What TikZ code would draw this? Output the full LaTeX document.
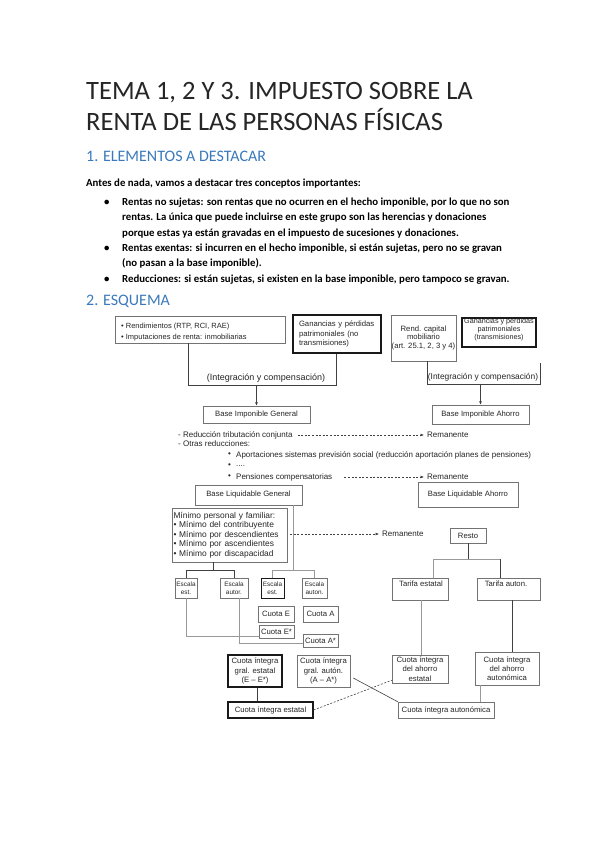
\documentclass[tikz,border=0pt]{standalone}
\usepackage{fontspec}
\setmainfont{Carlito}
\newfontfamily\arialf{Liberation Sans}
\usetikzlibrary{arrows.meta,shadows,calc}
\definecolor{headblue}{RGB}{58,122,188}
\newcommand\mybox[7]{\node[#1, minimum width={(#5-#3)*1pt}, minimum height={(#6-#4)*1pt}] (#2) at ({(#3+#5)/2},{(#4+#6)/2}) {#7};}
\newcommand\fsz[2]{\fontsize{#1}{#2}\selectfont}
\begin{document}
\begin{tikzpicture}[x=1pt,y=-1pt,
  txt/.style={inner sep=0pt, anchor=base west},
  body/.style={txt, font=\bfseries\fsz{10.8}{12}},
  head/.style={txt, text=headblue, font=\fsz{16}{19}},
  dtxt/.style={inner sep=0pt, anchor=west, font=\arialf\fsz{8}{9.5}, text=black!85},
  dbase/.style={inner sep=0.5pt, font=\arialf\fsz{7.7}{9.3}, text=black!85, align=center, fill=white},
  sbox/.style={dbase, draw=black!55, line width=0.5pt, drop shadow={shadow xshift=0.9pt, shadow yshift=-0.9pt, fill=black!70, opacity=0.6}},
  hbox/.style={dbase, draw=black!90, line width=1.1pt},
  ln/.style={draw=black!75, line width=0.6pt},
  gln/.style={draw=black!40, line width=0.6pt},
  arr/.style={ln, -{Latex[length=3.5pt,width=3pt]}},
  darr/.style={draw=black!75, line width=0.6pt, dash pattern=on 2pt off 1.6pt, -{Latex[length=3.5pt,width=3pt]}},
  dln/.style={draw=black!75, line width=0.6pt, dash pattern=on 2pt off 1.6pt},
  esc/.style={font=\arialf\fsz{6.4}{8.3}, inner sep=0pt}
]
\fill[white] (0,0) rectangle (599,848);
\useasboundingbox (0,0) rectangle (599,848);

% ---------- text part ----------
\node[txt, font=\fsz{26.5}{31}, text=black!85] (title1) at (86,100) {TEMA 1, 2 Y 3. IMPUESTO SOBRE LA};
\node[txt, font=\fsz{26.5}{31}, text=black!85] (title2) at (86,131) {RENTA DE LAS PERSONAS FÍSICAS};
\node[head] (h1) at (86,161) {1. ELEMENTOS A DESTACAR};
\node[body] (intro) at (86,186) {Antes de nada, vamos a destacar tres conceptos importantes:};

\node[body] (bu1) at (104,205) {\textbullet};
\node[body] (l1) at (122,205) {Rentas no sujetas: son rentas que no ocurren en el hecho imponible, por lo que no son};
\node[body] (l2) at (122,220) {rentas. La única que puede incluirse en este grupo son las herencias y donaciones};
\node[body] (l3) at (122,236) {porque estas ya están gravadas en el impuesto de sucesiones y donaciones.};
\node[body] (bu4) at (104,251) {\textbullet};
\node[body] (l4) at (122,251) {Rentas exentas: si incurren en el hecho imponible, si están sujetas, pero no se gravan};
\node[body] (l5) at (122,266) {(no pasan a la base imponible).};
\node[body] (bu6) at (104,282) {\textbullet};
\node[body] (l6) at (122,282) {Reducciones: si están sujetas, si existen en la base imponible, pero tampoco se gravan.};
\node[head] (h2) at (86,305) {2. ESQUEMA};

% ---------- diagram: top ----------
\mybox{sbox}{b1}{115}{316}{285}{343}{}
\node[dtxt, font=\arialf\fsz{7.5}{9}] (b1t1) at (121,327) {\textbullet\ Rendimientos (RTP, RCI, RAE)};
\node[dtxt, font=\arialf\fsz{7.5}{9}] (b1t2) at (121,338) {\textbullet\ Imputaciones de renta: inmobiliarias};
\mybox{hbox, align=left, text width=76pt, font=\arialf\fsz{7.7}{9.8}}{b2}{293}{315}{381}{353}{Ganancias y pérdidas\\patrimoniales (no\\transmisiones)}
\mybox{sbox, font=\arialf\fsz{7.7}{8.6}}{b3}{391}{315}{456}{361}{Rend. capital\\mobiliario\\(art. 25.1, 2, 3 y 4)}
\mybox{hbox, line width=1.5pt}{b4}{462}{318}{536}{347}{}
\node[dbase, fill=none, inner sep=0pt, font=\arialf\fsz{7.2}{8.2}] (b4t) at (499,329.5) {Ganancias y pérdidas\\patrimoniales\\(transmisiones)};

\coordinate (lbA) at (188,385);
\coordinate (lbB) at (336,385);
\draw[ln] (b1.south -| lbA) -- (lbA) -- (lbB) -- (b2.south -| lbB);
\node[dtxt, anchor=center, font=\arialf\fsz{9}{10}] (intL) at (266,378) {(Integración y compensación)};
\mybox{sbox}{BIG}{203}{406}{310}{423}{Base Imponible General}
\draw[arr] (BIG.north |- lbA) -- (BIG.north);

\coordinate (rbA) at (427,384);
\coordinate (rbB) at (540,384);
\coordinate (rbC) at (540,363);
\draw[ln] (b3.south -| rbA) -- (rbA) -- (rbB) -- (rbC);
\node[dtxt, anchor=center, font=\arialf\fsz{8.4}{10}] (intR) at (483,377) {(Integración y compensación)};
\mybox{sbox}{BIA}{432}{405}{529}{424}{Base Imponible Ahorro}
\draw[arr] (BIA.north |- rbA) -- (BIA.north);

% ---------- reductions ----------
\node[dtxt] (r1) at (178,435) {- Reducción tributación conjunta};
\node[dtxt] (r2) at (178,444) {- Otras reducciones:};
\node[dtxt] (rb3) at (228,455) {\textbullet};
\node[dtxt] (r3) at (236,455) {Aportaciones sistemas previsión social (reducción aportación planes de pensiones)};
\node[dtxt] (rb4) at (228,466) {\textbullet};
\node[dtxt] (r4) at (236,466) {....};
\node[dtxt] (rb5) at (228,477) {\textbullet};
\node[dtxt] (r5) at (236,477) {Pensiones compensatorias};
\node[dtxt] (rem1) at (427,435) {Remanente};
\node[dtxt] (rem2) at (427,477) {Remanente};
\draw[darr] ($(r1.east)+(5,0)$) -- ($(rem1.west)+(-3,0)$);
\draw[darr] ($(r5.east)+(12,0)$) -- ($(rem2.west)+(-3,0)$);

\mybox{sbox}{BLG}{195}{485}{302}{505}{Base Liquidable General}
\mybox{sbox, drop shadow={shadow xshift=1.4pt, shadow yshift=-1.4pt, fill=black!85}}{BLA}{418}{482}{518}{507}{Base Liquidable Ahorro}

% ---------- minimos ----------
\mybox{sbox, align=left, text width=112pt, font=\arialf\fsz{8.4}{9.6}}{mn}{172}{508}{287}{562}{Mínimo personal y familiar:\\\textbullet\ Mínimo del contribuyente\\\textbullet\ Mínimo por descendientes\\\textbullet\ Mínimo por ascendientes\\\textbullet\ Mínimo por discapacidad}
\node[dtxt] (rem3) at (382,534) {Remanente};
\draw[darr] ($(mn.east |- rem3.west)+(3,0)$) -- ($(rem3.west)+(-3,0)$);

% ---------- ahorro branch ----------
\mybox{sbox}{rs}{450}{528}{486}{543}{Resto}
\mybox{sbox}{te}{392}{578}{448}{600}{}
\node[dbase, fill=none, inner sep=0pt] (tetx) at (421,584) {Tarifa estatal};
\mybox{sbox}{ta}{477}{578}{540}{600}{}
\node[dbase, fill=none, inner sep=0pt] (tatx) at (506,584) {Tarifa auton.};
\coordinate (rsj) at (466,559);
\coordinate (tl) at (433,559);
\coordinate (tr) at (500,559);
\draw[ln] (rs.south) -- (rs.south |- rsj);
\draw[gln] (tl) -- (tr);
\draw[gln] (tl) -- (te.north -| tl);
\draw[ln] (tr) -- (ta.north -| tr);

\mybox{sbox}{cdae}{392}{655}{448}{683}{Cuota íntegra\\del ahorro\\estatal}
\mybox{sbox}{cdaa}{475}{652}{539}{685}{Cuota íntegra\\del ahorro\\autonómica}
\mybox{sbox}{cia}{398}{702}{494}{718}{Cuota íntegra autonómica}
\coordinate (xte) at (421,0);
\coordinate (xta) at (512,0);
\coordinate (xca) at (480,0);
\draw[gln] (te.south -| xte) -- (cdae.north -| xte);
\draw[ln] (ta.south -| xta) -- (cdaa.north -| xta);
\draw[gln] (cdaa.south -| xca) -- (cia.north -| xca);

% ---------- general branch ----------
\mybox{sbox, esc}{e1}{175}{578}{197}{598}{Escala\\est.}
\mybox{sbox, esc}{e2}{220}{578}{248}{598}{Escala\\autor.}
\mybox{hbox, esc, line width=0.9pt}{e3}{261}{578}{284}{598}{Escala\\est.}
\mybox{sbox, esc}{e4}{302}{578}{327}{598}{Escala\\auton.}

\coordinate (mj) at (213,570);
\draw[ln] (mn.south -| mj) -- (mj);
\draw[ln] (e1.north |- mj) -- (e2.north |- mj);
\draw[ln] (e1.north |- mj) -- (e1.north);
\draw[ln] (e2.north |- mj) -- (e2.north);

\coordinate (bj) at (293,570);
\draw[gln] (BLG.south -| bj) -- (bj);
\draw[gln] (e3.north |- bj) -- (e4.north |- bj);
\draw[gln] (e3.north |- bj) -- (e3.north);
\draw[gln] (e4.north |- bj) -- (e4.north);

\mybox{sbox}{qe}{258}{606}{294}{622}{Cuota E}
\mybox{sbox}{qa}{303}{606}{338}{622}{Cuota A}
\mybox{sbox}{qes}{259}{625}{294}{638}{Cuota E*}
\mybox{sbox}{qas}{303}{634}{338}{647}{Cuota A*}

\coordinate (c1) at (186,636);
\draw[gln] (e1.south) -- (c1) -- (qes.west |- c1);
\coordinate (c2) at (239,643);
\draw[gln] (e2.south -| c2) -- (c2) -- (qas.west |- c2);

\mybox{hbox}{cge}{228}{655}{282}{687}{Cuota íntegra\\gral. estatal\\(E – E*)}
\mybox{sbox}{cga}{297}{655}{350}{687}{Cuota íntegra\\gral. autón.\\(A – A*)}
\mybox{hbox}{cie}{228}{702}{313}{718}{Cuota íntegra estatal}
\coordinate (xce) at (257,0);
\draw[ln] (cge.south -| xce) -- (cie.north -| xce);

\draw[dln] (cie.east) -- ($(cdae.south west)+(0,-3)$);
\draw[ln] ($(cga.east)+(3,7)$) -- (cia.north west);
\end{tikzpicture}
\end{document}
